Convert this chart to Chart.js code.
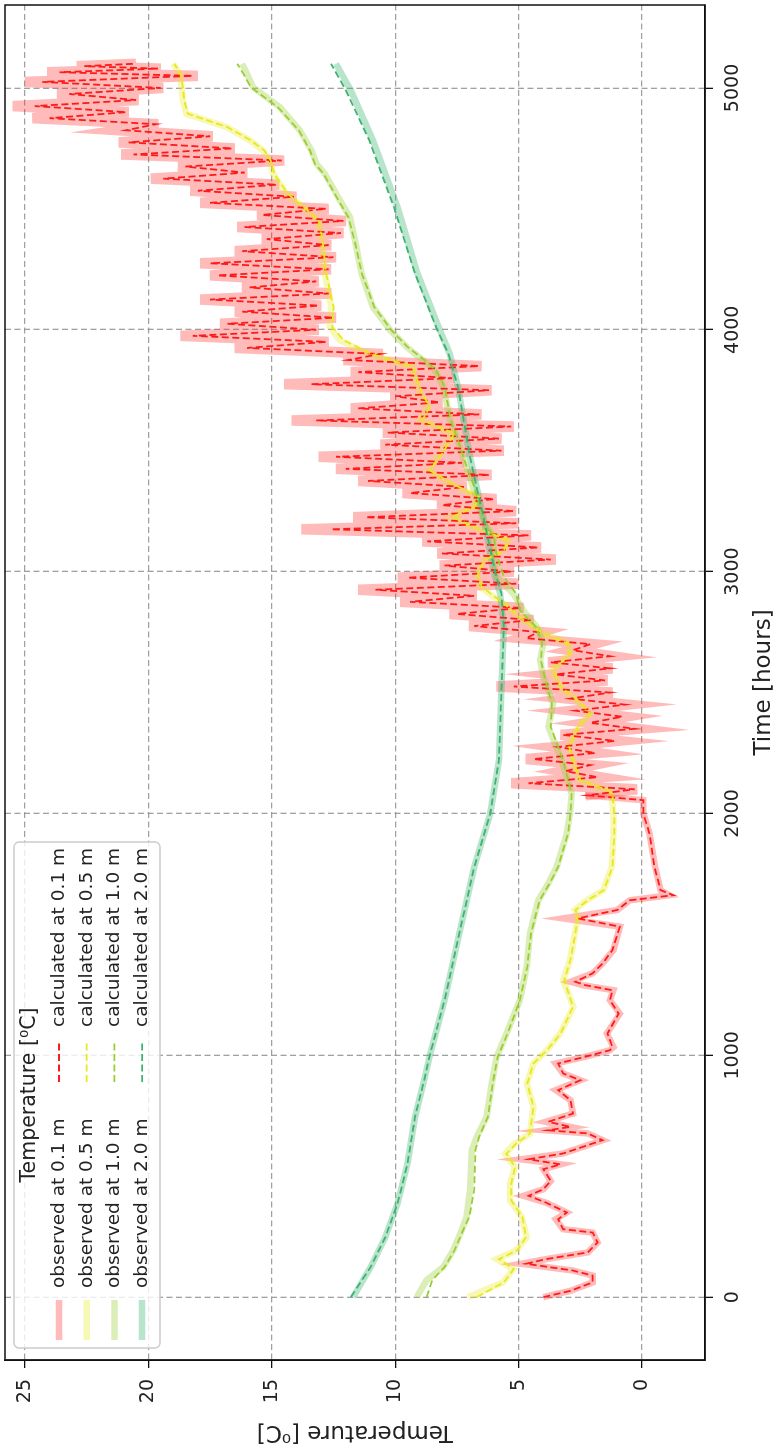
<!DOCTYPE html>
<html>
<head>
<meta charset="utf-8">
<script src="https://cdn.jsdelivr.net/npm/chart.js@4.4.0/dist/chart.umd.min.js"></script>
<style>
  html, body { margin: 0; padding: 0; background: #fff; overflow: hidden; width: 778px; height: 1448px; }
  /* the figure is laid out landscape and turned a quarter turn counter-clockwise */
  #wrap { position: absolute; left: 0; top: 0; width: 1448px; height: 778px;
          transform-origin: 0 0; transform: translate(0, 1448px) rotate(-90deg); }
</style>
</head>
<body>
<div id="wrap"><canvas id="c"></canvas></div>
<script>
// ---- axes ----
const timeTicks = [0, 1000, 2000, 3000, 4000, 5000];
const tempTicks = [0, 5, 10, 15, 20, 25];
const depths = ['0.1 m', '0.5 m', '1.0 m', '2.0 m'];
const lineColors = ['#ff1a1a', '#e8e81a', '#9acd32', '#3cb371'];
const bandColors = ['rgba(255,40,40,0.32)', 'rgba(232,232,26,0.32)', 'rgba(154,205,50,0.35)', 'rgba(60,179,113,0.36)'];
// from this hour on the 0.1 m record swings through its daily cycle
const dailyCycleFrom = 2075;

// ---- 0.1 m ----
const t01 = [0,26,61,89,110,138,157,185,226,267,281,322,350,391,419,446,480,529,549,570,594,649,677,690,704,725,759,814,856,897,925,966,994,1021,1034,1090,1172,1228,1269,1290,1304,1339,1380,1435,1532,1566,1601,1641,1662,1683,1779,1917,2000,2055,
  2075,2100,2125,2150,2175,2200,2225,2250,2275,2300,
  2325,2350,2375,2400,2425,2450,2475,2500,2525,2550,
  2575,2600,2625,2650,2675,2700,2725,2750,2775,2800,
  2825,2850,2875,2900,2925,2950,2975,3000,3025,3050,
  3075,3100,3125,3150,3175,3200,3225,3250,3275,3300,
  3325,3350,3375,3400,3425,3450,3475,3500,3525,3550,
  3575,3600,3625,3650,3675,3700,3725,3750,3775,3800,
  3825,3850,3875,3900,3925,3950,3975,4000,4025,4050,
  4075,4100,4125,4150,4175,4200,4225,4250,4275,4300,
  4325,4350,4375,4400,4425,4450,4475,4500,4525,4550,
  4575,4600,4625,4650,4675,4700,4725,4750,4775,4800,
  4825,4850,4875,4900,4925,4950,4975,5000,5025,5050,
  5065,5080,5090,5100];
const obs01 = [4.0,2.9,2.0,2.0,2.8,4.9,3.9,2.2,1.8,2.0,3.2,3.5,3.05,3.9,4.8,4.0,3.7,4.0,3.3,4.9,3.2,1.6,2.2,3.9,2.9,3.9,2.8,2.9,3.5,2.5,3.2,3.5,2.3,1.3,1.16,1.43,0.9,1.3,1.16,2.4,2.9,2.0,1.6,1.16,0.9,3.2,1.0,0.5,-1.1,-0.75,-0.53,-0.3,-0.05,-0.05,
  2.3,0.2,5.3,1.7,3.2,2.0,4.7,1.8,3.5,1.0,
  3.3,0.2,2.2,0.7,2.8,0.6,3.0,1.2,5.9,1.4,
  3.6,1.2,3.8,1.2,2.9,2.0,4.9,4.1,7.0,4.4,
  7.8,4.8,9.8,6.7,11.5,5.0,9.9,5.2,8.2,3.5,
  8.3,4.1,8.9,4.5,13.8,5.0,11.7,5.1,8.3,5.9,
  9.7,7.1,11.5,6.1,12.4,7.2,13.1,5.6,10.6,5.7,
  10.5,5.2,14.2,6.5,11.8,8.1,10.2,6.1,14.5,7.6,
  11.8,6.5,12.1,10.5,16.5,12.7,18.7,13.1,17.1,12.4,
  16.5,13.0,17.9,12.6,16.2,13.1,17.5,12.6,17.9,12.4,
  16.5,12.6,15.4,12.1,16.4,12.0,15.6,12.7,17.9,14.0,
  18.3,14.7,19.9,16.0,18.8,14.5,21.1,16.5,21.2,17.4,
  21.2,19.6,24.7,20.8,25.5,20.4,23.7,19.4,25.0,18.0,
  24.1,19.5,22.9,20.5];
const calc01 = [4.0,2.9,2.0,2.0,2.8,4.7,3.9,2.2,1.8,2.0,3.2,3.4,3.05,3.9,4.6,4.0,3.7,4.0,3.3,4.6,3.2,1.6,2.2,3.8,2.9,3.8,2.8,2.9,3.4,2.5,3.2,3.4,2.3,1.3,1.2,1.4,0.95,1.3,1.2,2.3,2.7,2.0,1.6,1.2,0.9,2.6,1.0,0.5,-1.27,-0.75,-0.5,-0.3,-0.05,-0.05,
  2.2,0.3,4.6,1.8,3.1,2.1,4.4,1.9,3.4,1.1,
  3.2,0.3,2.1,0.8,2.7,0.7,2.9,1.3,5.2,1.5,
  3.5,1.3,3.7,1.3,2.8,2.1,4.7,4.2,6.8,4.5,
  7.5,4.9,9.4,6.8,10.8,5.1,9.5,5.3,8.0,3.7,
  8.1,4.2,8.7,4.6,12.6,5.1,11.2,5.2,8.1,6.0,
  9.4,7.2,11.1,6.2,12.0,7.3,12.4,5.7,10.4,5.8,
  10.3,5.3,13.2,6.6,11.5,8.2,10.0,6.2,13.4,7.7,
  11.5,6.6,11.9,10.6,16.0,12.8,18.2,13.2,16.8,12.5,
  16.2,13.1,17.5,12.7,15.9,13.2,17.2,12.7,17.5,12.5,
  16.2,12.7,15.2,12.2,16.1,12.1,15.4,12.8,17.5,14.1,
  18.0,14.8,19.4,16.1,18.5,14.6,20.6,16.6,20.8,17.5,
  20.9,19.7,24.0,20.9,24.6,20.5,23.2,19.5,24.3,18.2,
  23.6,19.6,22.6,20.6];

// ---- 0.5 m ----
const t05 = [0,61,116,157,194,248,332,400,469,538,593,635,676,787,883,966,1021,1090,1200,1311,1394,1505,1574,1601,1641,1683,1779,1917,1986,2082,2096,2137,2192,2275,2358,2413,2468,2523,2592,2661,2703,2744,2799,2868,2937,2992,3047,3088,3129,3184,3226,3267,3309,3364,3419,3488,3571,3626,3681,3736,3819,3846,3902,3957,4012,4094,4232,4370,4452,4507,4562,4645,4700,4741,4783,4838,4893,4948,5003,5058,5100];
const obs05 = [7.05,5.63,5.22,5.89,5.08,4.67,4.88,5.35,5.35,5.15,5.55,5.15,4.54,4.4,4.67,4.4,3.86,3.32,2.78,3.19,2.92,2.72,2.58,2.72,2.24,1.57,1.23,1.16,1.16,1.23,1.43,2.51,2.72,2.99,2.58,2.11,2.65,3.32,3.66,2.92,2.99,4.0,4.81,5.62,6.57,6.7,6.43,5.62,5.42,6.84,7.78,6.84,6.64,7.78,8.66,8.19,7.65,9.0,8.66,9.0,9.27,9.27,11.16,12.24,12.65,12.58,12.85,12.98,13.12,13.73,14.4,14.95,15.08,15.35,15.89,16.83,18.46,18.6,18.66,18.73,19.0];
const calc05 = [6.7,5.6,5.2,5.8,5.05,4.7,4.85,5.3,5.3,5.15,5.5,5.1,4.55,4.4,4.65,4.4,3.85,3.3,2.8,3.15,2.9,2.7,2.6,2.7,2.2,1.55,1.2,1.12,1.12,1.2,1.4,2.5,2.7,2.95,2.6,2.1,2.6,3.3,3.6,2.9,3.0,4.0,4.8,5.6,6.5,6.65,6.4,5.6,5.4,6.8,7.7,6.8,6.6,7.7,8.6,8.1,7.6,8.9,8.6,8.9,9.2,9.3,11.0,12.1,12.55,12.5,12.8,12.95,13.1,13.7,14.35,14.9,15.05,15.3,15.85,16.8,18.4,18.55,18.6,18.7,18.95];

// ---- 1.0 m ----
const t10 = [0,70,125,194,277,332,442,608,663,745,883,993,1090,1228,1367,1505,1641,1710,1779,1917,2000,2082,2220,2358,2454,2565,2634,2703,2772,2840,2909,2978,3074,3143,3212,3350,3447,3557,3626,3764,3833,3874,3929,3998,4094,4232,4370,4466,4535,4645,4686,4741,4824,4920,5003,5058,5100];
const obs10 = [9.13,8.73,8.05,7.65,7.31,7.11,6.97,6.90,6.70,6.30,6.09,5.89,5.49,4.95,4.67,4.54,4.2,3.8,3.46,3.05,2.92,2.85,3.26,3.8,3.6,4.0,4.13,4.0,4.27,4.81,5.22,5.89,6.04,6.0,6.44,6.85,7.17,7.51,7.78,8.05,8.39,8.87,9.54,10.2,10.9,11.36,11.63,11.84,12.24,12.85,13.19,13.39,13.86,14.67,15.76,16.0,16.2];
const calc10 = [8.73,8.5,8.0,7.6,7.25,7.0,6.8,6.75,6.6,6.25,6.05,5.85,5.45,4.95,4.65,4.5,4.15,3.75,3.4,3.0,2.9,2.85,3.2,3.7,3.65,3.95,4.1,4.05,4.3,4.95,5.1,5.6,5.9,6.0,6.4,6.8,7.15,7.5,7.75,8.0,8.35,8.8,9.5,10.15,10.85,11.35,11.65,11.9,12.3,12.9,13.25,13.45,13.9,14.75,15.85,16.15,16.4];

// ---- 2.0 m ----
const t20 = [0,124,248,389,554,744,909,1000,1228,1505,1778,2000,2220,2497,2770,2910,2976,3047,3212,3489,3762,3902,4000,4233,4506,4783,4990,5100];
const obs20 = [11.7,11.0,10.4,9.9,9.5,9.2,8.8,8.6,8.0,7.4,6.8,6.15,5.8,5.7,5.6,5.75,5.95,6.1,6.4,7.0,7.45,7.8,8.2,9.1,9.9,10.9,11.8,12.4];
const calc20 = [11.8,11.0,10.4,9.9,9.5,9.2,8.8,8.6,8.0,7.4,6.8,6.15,5.8,5.7,5.6,5.7,5.9,6.05,6.4,7.0,7.45,7.85,8.3,9.2,10.05,11.05,12.0,12.6];

const legendTitle = 'Temperature [\u2070C]';

const pairs = (ts, vs) => ts.map((t, i) => ({ x: t, y: vs[i] }));
const seriesTimes = [t01, t05, t10, t20];
const seriesObs = [obs01, obs05, obs10, obs20];
const seriesCalc = [calc01, calc05, calc10, calc20];

const OBS_WIDTH = 6.5;
const datasets = [];
depths.forEach((d, i) => {
  const ds = {
    label: 'observed at ' + d, data: pairs(seriesTimes[i], seriesObs[i]),
    borderColor: bandColors[i], borderWidth: OBS_WIDTH, pointRadius: 0, fill: false, tension: 0,
    borderJoinStyle: 'miter', borderCapStyle: 'butt', order: 8 - i
  };
  if (i === 0) {
    // a wider stroke for the daily swings so the range reads as one band
    ds.segment = { borderWidth: c => (c.p0.parsed.x >= dailyCycleFrom ? 10.5 : OBS_WIDTH) };
  }
  datasets.push(ds);
});
depths.forEach((d, i) => {
  datasets.push({
    label: 'calculated at ' + d, data: pairs(seriesTimes[i], seriesCalc[i]),
    borderColor: lineColors[i], borderWidth: 1.8, borderDash: [7, 3.5], pointRadius: 0, fill: false, tension: 0,
    order: 4 - i
  });
});

// legend laid out as two columns (observed | calculated) with a centred title
const depthLegend = {
  id: 'depthLegend',
  afterDatasetsDraw(chart) {
    const { ctx, chartArea: a } = chart;
    const x0 = a.left + 12, y0 = a.top + 9, w = 506, h = 146, r = 5;
    ctx.save();
    ctx.beginPath();
    ctx.moveTo(x0 + r, y0);
    ctx.arcTo(x0 + w, y0, x0 + w, y0 + h, r);
    ctx.arcTo(x0 + w, y0 + h, x0, y0 + h, r);
    ctx.arcTo(x0, y0 + h, x0, y0, r);
    ctx.arcTo(x0, y0, x0 + w, y0, r);
    ctx.closePath();
    ctx.fillStyle = 'rgba(255,255,255,0.8)';
    ctx.fill();
    ctx.lineWidth = 1.5;
    ctx.strokeStyle = '#cccccc';
    ctx.stroke();

    ctx.fillStyle = '#222';
    ctx.textBaseline = 'middle';
    ctx.textAlign = 'center';
    ctx.font = '20.5px "DejaVu Sans"';
    ctx.fillText(legendTitle, x0 + w / 2, y0 + 16);

    ctx.textAlign = 'left';
    ctx.font = '18.5px "DejaVu Sans"';
    const ds = chart.data.datasets;
    for (let i = 0; i < 4; i++) {
      const y = y0 + 45 + i * 27.7;
      const o = ds[i], c = ds[i + 4];
      ctx.setLineDash([]);
      ctx.lineWidth = OBS_WIDTH;
      ctx.strokeStyle = o.borderColor;
      ctx.beginPath(); ctx.moveTo(x0 + 8, y); ctx.lineTo(x0 + 48, y); ctx.stroke();
      ctx.fillText(o.label, x0 + 60, y);
      ctx.setLineDash(c.borderDash);
      ctx.lineWidth = c.borderWidth;
      ctx.strokeStyle = c.borderColor;
      ctx.beginPath(); ctx.moveTo(x0 + 266, y); ctx.lineTo(x0 + 306, y); ctx.stroke();
      ctx.setLineDash([]);
      ctx.fillText(c.label, x0 + 321, y);
    }
    ctx.restore();
  },
  afterDraw(chart) {
    const { ctx, chartArea: a } = chart;
    ctx.save();
    ctx.lineWidth = 1.5;
    ctx.strokeStyle = '#111';
    ctx.strokeRect(a.left, a.top, a.right - a.left, a.bottom - a.top);
    ctx.restore();
  }
};

Chart.defaults.font.family = '"DejaVu Sans", sans-serif';
Chart.defaults.color = '#222';

const gridOpts = { color: 'rgba(150,150,150,0.9)', lineWidth: 1.3, drawTicks: true, tickLength: 8,
                   tickColor: '#111', tickWidth: 1.3, tickBorderDash: [] };
const borderOpts = { display: true, color: '#111', width: 1.5, dash: [6, 3.5] };

new Chart(document.getElementById('c'), {
  type: 'line',
  data: { datasets },
  options: {
    responsive: true,
    maintainAspectRatio: false,
    animation: false,
    events: [],
    layout: { padding: { top: 5, right: 5, left: 0, bottom: 0 } },
    plugins: { legend: { display: false }, tooltip: { enabled: false } },
    scales: {
      x: {
        type: 'linear', position: 'bottom', min: -260, max: 5343,
        afterBuildTicks: s => { s.ticks = timeTicks.map(v => ({ value: v })); },
        afterFit: s => { s.height = 73; s.paddingLeft = 0; s.paddingRight = 0; },
        grid: gridOpts, border: borderOpts,
        ticks: { font: { size: 19 }, padding: 9, maxRotation: 0, autoSkip: false, callback: v => String(v) },
        title: { display: true, text: 'Time [hours]', font: { size: 23 }, padding: { top: 0, bottom: 0 } }
      },
      y: {
        type: 'linear', position: 'left', min: -2.55, max: 25.81,
        afterBuildTicks: s => { s.ticks = tempTicks.map(v => ({ value: v })); },
        afterFit: s => { s.width = 88; s.paddingTop = 0; s.paddingBottom = 0; },
        grid: gridOpts, border: borderOpts,
        ticks: { font: { size: 19 }, padding: 11, autoSkip: false, callback: v => String(v) },
        title: { display: true, text: 'Temperature [\u2070C]', font: { size: 23 }, padding: { top: 2, bottom: 0 } }
      }
    }
  },
  plugins: [depthLegend]
});
</script>
</body>
</html>
